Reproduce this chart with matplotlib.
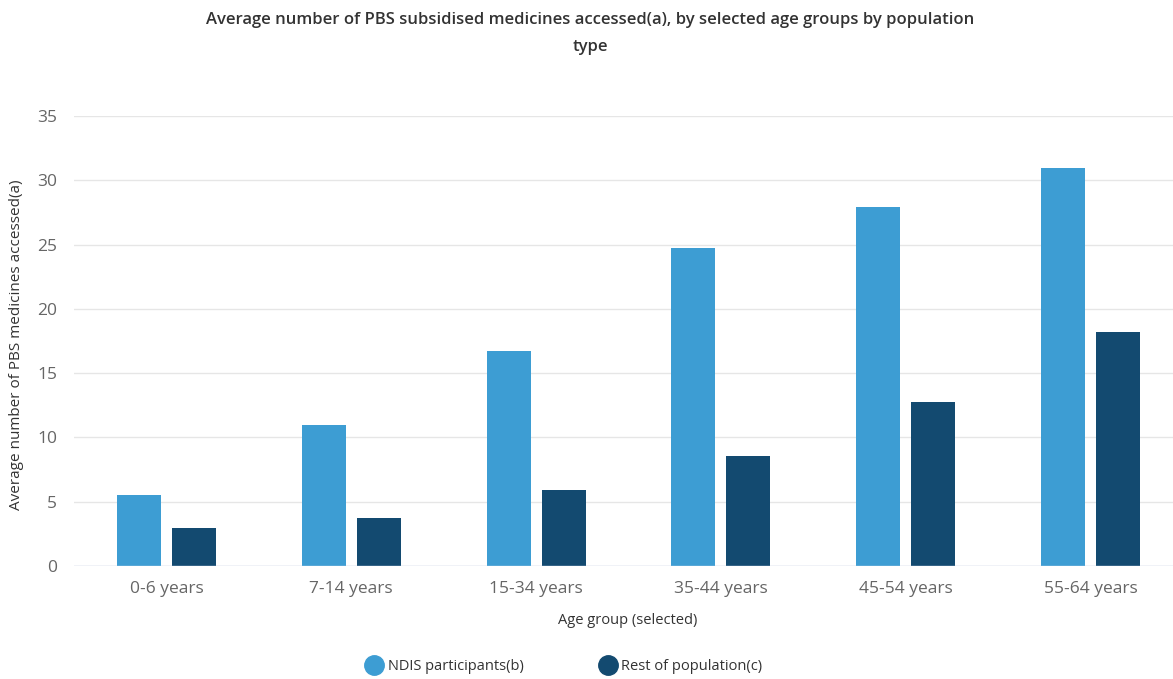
import matplotlib
matplotlib.use("Agg")
import matplotlib.pyplot as plt
from matplotlib.lines import Line2D
import numpy as np

categories = ["0-6 years", "7-14 years", "15-34 years", "35-44 years", "45-54 years", "55-64 years"]
ndis = [5.5, 11.0, 16.7, 24.7, 27.9, 30.95]
rest = [2.95, 3.7, 5.9, 8.55, 12.75, 18.2]
series_names = ["NDIS participants(b)", "Rest of population(c)"]
colors = ["#3D9DD3", "#134A70"]

plt.rcParams['font.family'] = ['Open Sans', 'DejaVu Sans']

W, H = 1173, 679
fig = plt.figure(figsize=(W/100, H/100), dpi=100)
ax = fig.add_axes([74/W, 1-566/H, 1-74/W, (566-116)/H])

x = np.arange(len(categories))
bw = 0.238
off = 0.149
ax.bar(x - off, ndis, width=bw, color=colors[0], zorder=3)
ax.bar(x + off, rest, width=bw, color=colors[1], zorder=3)

ax.set_xlim(-0.5, 5.446)
ax.set_ylim(0, 35)
ax.set_yticks(range(0, 36, 5))
ax.set_xticks(x)
ax.set_xticklabels(categories)
ax.tick_params(axis='both', length=0, labelsize=12.5, colors='#666666')
ax.tick_params(axis='x', pad=11)
ax.tick_params(axis='y', pad=12)
ax.grid(axis='y', color='#e6e6e6', linewidth=1, zorder=0)
for s in ax.spines.values():
    s.set_visible(False)
ax.axhline(0, color='#ccd6eb', linewidth=1, zorder=4)

fig.text(17/W, 1-345/H, "Average number of PBS medicines accessed(a)", rotation=90,
         ha='center', va='center', fontsize=11, color='#333333')
fig.text(628/W, 1-620/H, "Age group (selected)", ha='center', va='center',
         fontsize=10.5, color='#333333')

fig.text(590/W, 1-20/H, "Average number of PBS subsidised medicines accessed(a), by selected age groups by population",
         ha='center', va='center', fontsize=12, fontweight='semibold', color='#333333')
fig.text(590/W, 1-47/H, "type", ha='center', va='center', fontsize=12, fontweight='semibold', color='#333333')

handles = [Line2D([0], [0], marker='o', linestyle='none', markersize=14, markerfacecolor=c, markeredgecolor=c)
           for c in colors]
leg = fig.legend(handles, series_names, loc='center', bbox_to_anchor=(564/W, 1-667/H), ncol=2,
                 frameon=False, fontsize=10.5, handletextpad=0.3, columnspacing=5.2, handlelength=1.2)
for t in leg.get_texts():
    t.set_color('#333333')

fig.savefig("out.png", dpi=100)
